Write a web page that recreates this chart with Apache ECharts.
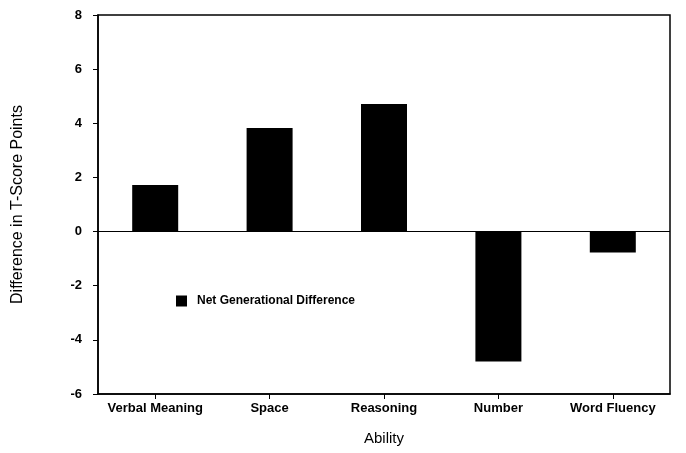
<!DOCTYPE html>
<html><head><meta charset="utf-8">
<script src="https://cdn.jsdelivr.net/npm/echarts@6/dist/echarts.min.js"></script>
<style>html,body{margin:0;padding:0;background:#fff}#c{width:686px;height:453px}</style>
</head><body><div id="c"></div>
<script>
const categories = ["Verbal Meaning", "Space", "Reasoning", "Number", "Word Fluency"];
const netDifference = [1.72, 3.83, 4.71, -4.8, -0.77];
const seriesName = "Net Generational Difference";
const yTicks = {min: -6, max: 8, interval: 2};

const chart = echarts.init(document.getElementById('c'), null, {renderer: 'canvas'});
const font = '"Liberation Sans", Arial, sans-serif';
chart.setOption({
  animation: false,
  backgroundColor: '#fff',
  grid: {left: 98, right: 16, top: 15, bottom: 59, show: true, borderColor: '#000', borderWidth: 1.5, backgroundColor: 'transparent', containLabel: false, outerBoundsMode: 'none'},
  legend: {
    left: 171, top: 290, itemWidth: 11, itemHeight: 11, icon: 'rect', itemGap: 10,
    textStyle: {fontFamily: font, fontSize: 12, fontWeight: 'bold', color: '#000', padding: [0,0,0,5]},
    data: [seriesName]
  },
  xAxis: {
    type: 'category', data: categories,
    name: 'Ability', nameLocation: 'middle', nameGap: 37,
    nameTextStyle: {fontFamily: font, fontSize: 15, color: '#000'},
    axisLine: {show: true, onZero: false, lineStyle: {color: '#000', width: 1.5}},
    axisTick: {show: true, alignWithLabel: true, length: 5, lineStyle: {color: '#000'}},
    axisLabel: {fontFamily: font, fontSize: 13, fontWeight: 'bold', color: '#000', margin: 8, interval: 0}
  },
  yAxis: {
    type: 'value', min: yTicks.min, max: yTicks.max, interval: yTicks.interval,
    name: 'Difference in T-Score Points', nameLocation: 'middle', nameGap: 72, nameRotate: 90,
    nameTextStyle: {fontFamily: font, fontSize: 16, color: '#000'},
    axisLine: {show: true, lineStyle: {color: '#000', width: 1.5}},
    axisTick: {show: true, length: 5, lineStyle: {color: '#000'}},
    axisLabel: {fontFamily: font, fontSize: 13, fontWeight: 'bold', color: '#000', margin: 16},
    splitLine: {show: false}
  },
  series: [{
    name: seriesName, type: 'bar', data: netDifference, barWidth: 46,
    itemStyle: {color: '#000'},
    markLine: {
      silent: true, symbol: ['none', 'none'], label: {show: false},
      lineStyle: {color: '#000', width: 1.2, type: 'solid'},
      data: [{yAxis: 0}]
    }
  }]
});
</script></body></html>
